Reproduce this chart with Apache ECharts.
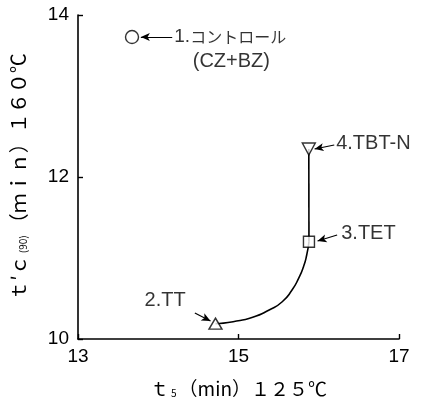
<!DOCTYPE html>
<html><head><meta charset="utf-8">
<script src="https://cdn.jsdelivr.net/npm/echarts@6/dist/echarts.min.js"></script>
<style>html,body{margin:0;padding:0;background:#fff}#c{width:422px;height:405px}</style>
</head><body><div id="c"></div>
<script>
// Axis ranges / ticks
const xTicks = [13, 15, 17];
const yTicks = [10, 12, 14];
// Marker points [t5, t'c90]
const pControl = [13.673, 13.728];   // 1. コントロール (CZ+BZ)
const pTT      = [14.713, 10.190];   // 2. TT
const pTET     = [15.878, 11.201];   // 3. TET
const pTBTN    = [15.876, 12.346];   // 4. TBT-N
// Hand-drawn connecting curve (TT -> TET), then straight to TBT-N
const curvePts = [pTT, [14.933, 10.214], [15.177, 10.268], [15.382, 10.358], [15.545, 10.460],
  [15.667, 10.605], [15.749, 10.749], [15.810, 10.893], [15.850, 11.037], pTET];
const straightPts = [pTET, pTBTN];
// Annotation text anchors (left edge, vertical centre) in data units
const labelTexts = ['{n|1.}{k|コントロール}', '(CZ+BZ)', '4.TBT-N', '3.TET', '2.TT'];
const labelPos = [[14.20, 13.728], [14.43, 13.42], [16.217, 12.41], [16.28, 11.30], [13.83, 10.48]];
// Arrows [from, to]
const arrows = [
  [[14.174, 13.728], [13.783, 13.728]],
  [[16.193, 12.395], [15.948, 12.346]],
  [[16.229, 11.284], [15.985, 11.210]],
  [[14.456, 10.321], [14.651, 10.222]]
];

const ink = '#000';
const chart = echarts.init(document.getElementById('c'), null, {renderer: 'canvas'});
const axisFont = {color: ink, fontSize: 19, fontFamily: 'Liberation Sans, Arial, sans-serif'};
chart.setOption({
  animation: false,
  backgroundColor: '#fff',
  grid: {left: 72, right: 23, top: 15, bottom: 66},
  xAxis: {
    type: 'value', min: xTicks[0], max: xTicks[xTicks.length - 1], interval: xTicks[1] - xTicks[0],
    axisLine: {lineStyle: {color: ink, width: 1.6}},
    axisTick: {inside: true, length: 5, lineStyle: {color: ink, width: 1.4}},
    splitLine: {show: false},
    axisLabel: Object.assign({margin: 8}, axisFont),
    name: '{a|ｔ}{s|5}{a|（min）１２５℃}',
    nameLocation: 'middle', nameGap: 40,
    nameTextStyle: {color: ink, rich: {
      a: {fontSize: 19, fontFamily: 'Noto Sans CJK JP', color: ink},
      s: {fontSize: 10, fontFamily: 'Noto Sans CJK JP', color: ink, verticalAlign: 'bottom', padding: [8, 2, 0, 2]}
    }}
  },
  yAxis: {
    type: 'value', min: yTicks[0], max: yTicks[yTicks.length - 1], interval: yTicks[1] - yTicks[0],
    axisLine: {show: true, lineStyle: {color: ink, width: 1.6}},
    axisTick: {show: true, inside: true, length: 5, lineStyle: {color: ink, width: 1.4}},
    splitLine: {show: false},
    axisLabel: Object.assign({margin: 9}, axisFont),
    name: '{a|ｔ′ｃ}{s|(90)}{a|（ｍｉｎ）１６０℃}',
    nameLocation: 'middle', nameGap: 50,
    nameTextStyle: {color: ink, rich: {
      a: {fontSize: 20, fontFamily: 'Noto Sans CJK JP', color: ink},
      s: {fontSize: 10, fontFamily: 'Noto Sans CJK JP', color: ink, verticalAlign: 'bottom', padding: [8, 2, 0, 2]}
    }}
  },
  series: [
    {type: 'line', data: curvePts, smooth: 0.6, symbol: 'none', lineStyle: {color: ink, width: 1.6}, z: 2},
    {type: 'line', data: straightPts, symbol: 'none', lineStyle: {color: ink, width: 1.6}, z: 2},
    {type: 'scatter', z: 5, itemStyle: {color: '#fff', borderColor: ink, borderWidth: 1.4},
      data: [
        {value: pControl, symbol: 'circle', symbolSize: 13},
        {value: pTT, symbol: 'triangle', symbolSize: [13, 11]},
        {value: pTET, symbol: 'rect', symbolSize: 11},
        {value: pTBTN, symbol: 'triangle', symbolSize: [13, 12], symbolRotate: 180}
      ]},
    {type: 'scatter', z: 6, symbolSize: 0, silent: true,
      data: labelPos.map((p, i) => ({value: p, name: labelTexts[i]})),
      label: {show: true, position: 'right', distance: 0, formatter: p => p.name,
        color: ink, fontSize: 20, fontFamily: 'Liberation Sans, Arial, sans-serif',
        rich: {
          n: {fontSize: 19, fontFamily: 'Liberation Sans, Arial, sans-serif', color: ink},
          k: {fontSize: 16, fontFamily: 'Noto Sans CJK JP', color: ink}
        }}},
    {type: 'line', data: [], silent: true,
      markLine: {silent: true, symbol: ['none', 'arrow'], symbolSize: [6, 9], animation: false,
        label: {show: false}, lineStyle: {color: ink, width: 1.2, type: 'solid'},
        emphasis: {disabled: true},
        data: arrows.map(a => [{coord: a[0]}, {coord: a[1]}])}}
  ]
});
</script></body></html>
